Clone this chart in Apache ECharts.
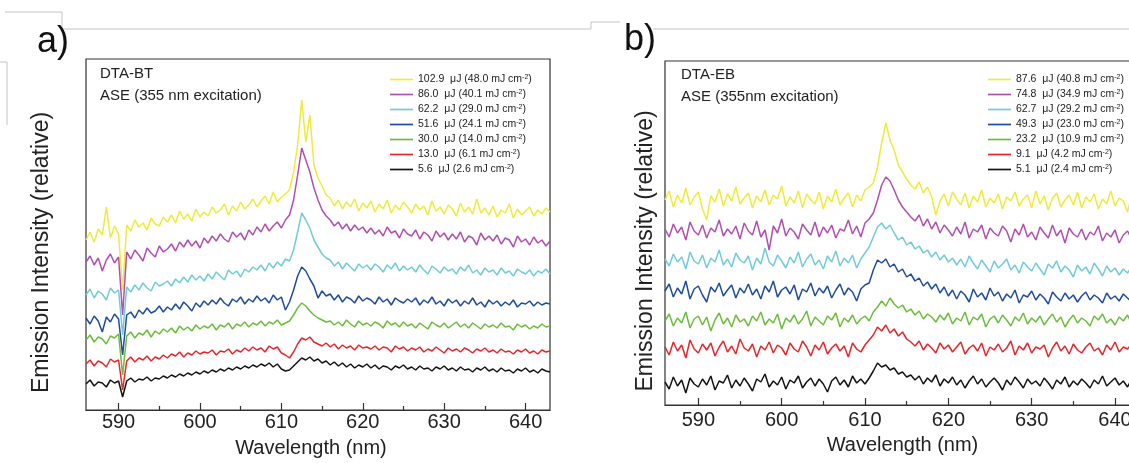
<!DOCTYPE html>
<html><head><meta charset="utf-8">
<script src="https://cdn.jsdelivr.net/npm/echarts@6/dist/echarts.min.js"></script>
<style>html,body{margin:0;padding:0;background:#fff;}#c{width:1129px;height:463px;}</style>
</head><body><div id="c"></div>
<script>
// Wavelength samples (nm)
const wavelengths = [586,586.5,587,587.5,588,588.5,589,589.5,590,590.5,591,591.5,592,592.5,593,593.5,594,594.5,595,595.5,
596,596.5,597,597.5,598,598.5,599,599.5,600,600.5,601,601.5,602,602.5,603,603.5,604,604.5,605,605.5,
606,606.5,607,607.5,608,608.5,609,609.5,610,610.5,611,611.5,612,612.5,613,613.5,614,614.5,615,615.5,
616,616.5,617,617.5,618,618.5,619,619.5,620,620.5,621,621.5,622,622.5,623,623.5,624,624.5,625,625.5,
626,626.5,627,627.5,628,628.5,629,629.5,630,630.5,631,631.5,632,632.5,633,633.5,634,634.5,635,635.5,
636,636.5,637,637.5,638,638.5,639,639.5,640,640.5,641,641.5,642,642.5,643];

const tickLabelsX = [590,600,610,620,630,640];
const minorTicksX = [595,605,615,625,635];

// Panel a) DTA-BT (relative intensity, stacked offsets as plotted)
const labelsA = ['102.9  μJ (48.0 mJ cm⁻²)','86.0  μJ (40.1 mJ cm⁻²)','62.2  μJ (29.0 mJ cm⁻²)','51.6  μJ (24.1 mJ cm⁻²)','30.0  μJ (14.0 mJ cm⁻²)','13.0  μJ (6.1 mJ cm⁻²)','5.6  μJ (2.6 mJ cm⁻²)'];
const a_102_9 = [170,178,168,181,175,203,172,184,176,120, 185,179,190,183,187,180,192,186,184,193,
188,195,187,199,191,196,189,201,193,198, 194,203,197,200,206,195,204,199,208,201,
205,211,203,209,214,206,218,208,213,216, 220,238,265,310,268,295,245,232,224,215,
212,204,210,201,208,203,211,199,207,202, 209,198,206,201,210,197,205,200,208,203,
197,206,200,204,195,209,199,203,196,205, 201,194,207,198,203,196,211,197,202,195,
204,193,200,197,206,192,201,195,199,203,194,200,196,202,198];
const a_86_0 = [148,154,145,152,139,150,156,147,153,95, 158,151,160,155,149,162,157,153,164,158,
161,166,159,168,163,170,164,169,162,172, 167,174,169,176,171,168,178,173,177,170,
180,175,183,178,186,179,184,188,182,190, 195,210,235,262,250,238,222,210,200,194,
190,184,188,181,186,179,185,180,183,177, 182,176,180,174,183,177,179,172,181,176,
174,180,171,178,175,169,179,173,177,170, 176,171,178,168,174,172,165,177,170,174,
169,175,166,172,170,163,174,168,171,165,173,167,170,164,169];
const a_62_2 = [115,121,112,119,116,110,122,117,120,75, 123,118,125,120,127,122,119,128,124,126,
129,124,131,127,133,128,135,130,134,129, 136,131,138,134,130,140,136,139,133,141,
138,143,140,145,139,147,142,148,144,151, 149,160,178,197,190,182,170,163,156,152,
150,144,148,141,147,143,139,146,142,145, 140,146,143,138,145,141,147,139,144,140,
143,138,145,140,136,144,141,137,143,139, 141,136,143,139,145,137,140,135,142,138,
140,135,142,137,139,134,141,138,136,140,134,139,137,141,136];
const a_51_6 = [92,86,94,89,78,93,88,96,91,55, 95,98,92,100,96,102,97,99,104,98,
103,100,106,101,108,104,99,107,103,109, 105,110,106,112,107,104,111,108,113,106,
111,108,114,109,112,107,115,110,113,100, 108,120,134,143,139,131,124,112,119,114,
116,110,115,108,113,111,107,114,109,112, 110,106,113,108,111,105,112,109,107,111,
108,112,105,110,107,113,106,109,104,111, 107,110,104,109,106,112,105,108,103,110,
106,109,104,108,105,110,103,107,106,109,104,108,105,107,106];
const a_30_0 = [70,75,68,73,71,66,74,72,76,35, 74,78,72,77,75,80,73,79,76,81,
78,82,77,84,80,83,79,85,81,84, 82,86,80,85,83,87,81,86,84,88,
83,87,85,89,84,88,86,90,85,87, 89,95,102,107,104,99,95,92,90,88,
89,85,88,84,90,86,83,89,85,87, 84,88,86,82,89,85,87,83,88,84,
86,82,87,84,81,88,85,83,87,82, 85,88,83,86,82,87,84,81,86,83,
85,82,87,83,84,80,86,83,85,81,84,82,86,83,84];
const a_13_0 = [46,50,44,49,47,43,51,48,50,20, 49,53,48,52,50,54,49,53,51,55,
52,56,54,58,53,57,55,59,56,58, 57,60,55,59,58,61,56,60,58,62,
59,63,60,62,58,64,61,63,57,55, 52,58,66,72,70,73,68,66,64,67,
63,66,61,65,62,64,60,65,62,63, 61,64,60,63,62,58,64,61,63,59,
62,60,63,58,61,59,63,60,57,62, 59,61,58,62,60,57,61,59,62,58,
60,57,61,58,59,56,60,58,61,57,59,56,60,58,59];
const a_5_6 = [26,30,24,28,27,23,30,27,29,13, 29,32,28,31,30,33,29,32,31,34,
32,35,33,36,34,37,35,38,36,39, 37,40,38,41,39,42,40,43,41,44,
42,45,43,46,44,47,43,46,41,39, 40,44,48,52,50,53,49,51,47,49,
45,48,44,47,43,46,42,45,43,46, 42,45,41,44,43,40,44,42,45,41,
43,40,44,41,42,39,43,41,44,40, 42,39,43,40,41,38,42,40,43,39,
41,38,42,39,40,37,41,39,42,38,40,37,41,39,38];

// Panel b) DTA-EB
const labelsB = ['87.6  μJ (40.8 mJ cm⁻²)','74.8  μJ (34.9 mJ cm⁻²)','62.7  μJ (29.2 mJ cm⁻²)','49.3  μJ (23.0 mJ cm⁻²)','23.2  μJ (10.9 mJ cm⁻²)','9.1  μJ (4.2 mJ cm⁻²)','5.1  μJ (2.4 mJ cm⁻²)'];
const b_87_6 = [205,214,198,210,202,217,200,208,213,196, 185,209,203,216,199,211,204,218,201,207,
212,197,209,203,215,200,210,206,219,199, 208,202,214,197,211,205,201,213,196,209,
203,216,200,207,212,198,210,204,215,218, 222,238,262,282,265,255,240,233,226,220,
216,223,212,218,208,190,204,211,199,213, 206,200,212,197,209,203,215,198,207,202,
211,196,208,204,213,199,206,210,197,214, 201,209,195,207,212,198,205,210,200,213,
197,208,203,211,196,206,201,214,199,207,204,193,210,202,208];
const b_74_8 = [176,168,181,172,178,165,183,174,170,180, 167,177,173,185,169,176,171,179,166,182,
174,170,184,168,175,155,179,172,186,169, 177,173,166,181,175,170,183,168,178,172,
180,167,176,174,185,171,179,168,182,186, 192,205,220,228,224,215,205,198,193,188,
184,190,179,186,176,183,172,180,175,169, 178,171,183,167,176,173,180,166,177,172,
169,179,174,163,176,170,181,168,173,165, 178,172,167,180,169,175,162,177,171,168,
176,165,173,170,179,164,172,168,175,162,170,174,166,171,168];
const b_62_7 = [146,139,151,143,148,136,153,144,141,150, 137,147,143,155,140,146,138,152,145,142,
149,135,147,141,157,143,139,150,144,137, 148,142,153,138,146,151,140,145,136,149,
143,154,139,147,142,150,137,146,152,158, 168,178,182,176,180,172,165,168,160,163,
156,159,152,155,148,153,145,150,143,147, 140,146,138,149,142,136,145,139,133,144,
137,141,146,135,140,132,143,138,134,142, 136,130,141,137,144,133,139,135,128,140,
134,138,131,142,136,129,139,133,137,130,136,132,138,134,135];
const b_49_3 = [114,121,108,117,111,124,106,116,119,110, 103,118,113,122,109,115,120,107,117,112,
121,110,116,106,119,113,124,108,115,118, 111,120,105,116,113,122,109,117,112,119,
107,115,121,110,117,113,104,116,120,122, 135,145,142,146,138,141,133,136,128,131,
124,127,119,123,116,121,112,118,109,115, 106,114,110,103,116,108,112,105,117,109,
113,104,111,107,115,102,110,108,114,105, 111,107,101,113,108,104,112,106,110,103,
109,113,105,110,107,102,112,106,109,104,111,107,103,110,108];
const b_23_2 = [84,91,79,87,82,93,77,86,89,80, 88,74,85,92,81,87,78,90,83,86,
79,89,84,93,80,86,82,91,76,87, 83,90,81,86,94,79,88,84,80,89,
85,92,78,87,83,90,81,86,89,84, 93,98,104,99,107,101,97,100,93,96,
90,94,86,91,88,83,90,85,92,81, 87,84,93,80,88,85,91,78,86,89,
82,90,85,79,88,84,92,81,87,83, 89,80,86,91,83,88,78,85,90,82,
87,84,79,89,85,91,82,86,80,88,84,90,81,87,85];
const b_9_1 = [58,50,63,54,60,47,65,56,52,61, 55,62,49,58,64,53,59,51,66,57,
54,61,48,59,55,63,52,60,57,50, 62,56,53,64,58,49,60,55,63,51,
57,61,54,59,48,62,56,53,60,65, 70,78,74,80,72,76,69,73,66,63,
59,64,55,61,57,52,62,56,60,53, 58,63,51,57,60,54,62,49,58,55,
61,53,57,64,50,59,55,62,52,58, 56,60,48,57,63,54,59,51,61,55,
52,58,62,54,57,50,60,55,63,53,58,56,61,52,57];
const b_5_1 = [23,16,28,19,25,12,27,21,18,26, 20,29,15,24,22,30,17,25,19,27,
21,14,26,23,31,18,24,20,28,16, 25,22,29,17,23,27,19,26,21,13,
24,28,20,25,18,29,22,26,21,27, 34,42,38,40,35,37,31,33,28,30,
25,29,21,27,23,30,19,26,22,28, 20,25,17,24,29,21,26,18,23,27,
22,15,25,20,28,23,17,26,21,24, 19,27,22,16,25,21,28,18,24,20,
26,22,17,25,21,29,19,23,27,20,24,18,26,22,23];

const colors = ['#efeb3e','#b04fb0','#72cbd8','#1f4c9c','#6cbd3c','#e5262b','#141414'];
const seriesA = [a_102_9,a_86_0,a_62_2,a_51_6,a_30_0,a_13_0,a_5_6];
const seriesB = [b_87_6,b_74_8,b_62_7,b_49_3,b_23_2,b_9_1,b_5_1];

const FONT = 'Liberation Sans, Arial, Helvetica, sans-serif';
const chart = echarts.init(document.getElementById('c'), null, {renderer:'canvas'});

function pairs(vals){ return wavelengths.map((w,i)=>[w, vals[i]]); }
function mkSeries(vals, names, gi, xi){
  return vals.map((v,k)=>({
    type:'line', name:names[k], xAxisIndex:xi, yAxisIndex:gi,
    data:pairs(v), symbol:'none', showSymbol:false, animation:false,
    lineStyle:{width:1.5, color:colors[k]}, itemStyle:{color:colors[k]}, z:2+k
  }));
}
function xMajor(gi, margin, nameGap, pad){
  return {type:'value', gridIndex:gi, position:'bottom', min:586, max:643,
    name:'Wavelength (nm)', nameLocation:'middle', nameGap:nameGap,
    nameTextStyle:{fontSize:20, color:'#222', fontFamily:FONT, padding:pad},
    axisLine:{show:true, lineStyle:{color:'#333', width:1.2}},
    axisTick:{show:true, inside:true, length:7, customValues:tickLabelsX, lineStyle:{color:'#333', width:1.2}},
    axisLabel:{show:true, customValues:tickLabelsX, fontSize:20, color:'#222', fontFamily:FONT, margin:margin},
    splitLine:{show:false}};
}
function xMinor(gi){
  return {type:'value', gridIndex:gi, position:'bottom', min:586, max:643,
    axisLine:{show:false}, splitLine:{show:false},
    axisTick:{show:true, inside:true, length:4, customValues:minorTicksX, lineStyle:{color:'#333', width:1.2}},
    axisLabel:{show:false}};
}
function yAx(gi, max, nameGap){
  return {type:'value', gridIndex:gi, min:0, max:max,
    name:'Emission Intensity (relative)', nameLocation:'middle', nameGap:nameGap, nameRotate:90,
    nameTextStyle:{fontSize:23, color:'#222', fontFamily:FONT, padding:[0,36,0,0]},
    axisLine:{show:false}, axisTick:{show:false}, axisLabel:{show:false}, splitLine:{show:false}};
}
const legendRich = {
  b:{fontSize:10.5, color:'#222', fontFamily:FONT, lineHeight:11},
  s:{fontSize:7, color:'#222', fontFamily:FONT, lineHeight:7, verticalAlign:'top'}
};
function legendFmt(n){ const p = n.split('cm⁻²'); return '{b|'+p[0]+'cm}{s|-2}{b|'+p[1]+'}'; }
const legendIcon = 'path://M0,0L30,0L30,2.2L0,2.2Z';

const option = {
  backgroundColor:'#fff',
  animation:false,
  grid:[
    {left:86, top:59, width:464, height:351, show:true, borderColor:'#333', borderWidth:1.2, outerBoundsMode:'none'},
    {left:665, top:61, width:475, height:344, show:true, borderColor:'#333', borderWidth:1.2, outerBoundsMode:'none'}
  ],
  xAxis:[xMajor(0,2,28,[0,14,0,0]), xMinor(0), xMajor(1,5,30,[0,0,0,0]), xMinor(1)],
  yAxis:[yAx(0,351,33), yAx(1,344,8)],
  title:[
    {text:'a)', left:37, top:24, padding:0, textStyle:{fontSize:36, fontWeight:'normal', color:'#111', fontFamily:FONT}},
    {text:'b)', left:624, top:22, padding:0, textStyle:{fontSize:36, fontWeight:'normal', color:'#111', fontFamily:FONT}},
    {text:'DTA-BT', subtext:'ASE (355 nm excitation)', left:100, top:66, padding:0, itemGap:7,
      textStyle:{fontSize:15, fontWeight:'normal', color:'#222', fontFamily:FONT},
      subtextStyle:{fontSize:15, color:'#222', fontFamily:FONT}},
    {text:'DTA-EB', subtext:'ASE (355nm excitation)', left:681, top:67, padding:0, itemGap:7,
      textStyle:{fontSize:15, fontWeight:'normal', color:'#222', fontFamily:FONT},
      subtextStyle:{fontSize:15, color:'#222', fontFamily:FONT}}
  ],
  legend:[
    {data:labelsA, orient:'vertical', left:390, top:74, padding:0, itemWidth:23, itemHeight:11, itemGap:4,
      icon:legendIcon, symbolKeepAspect:true,
      formatter:legendFmt, textStyle:{rich:legendRich}, selectedMode:false},
    {data:labelsB, orient:'vertical', left:988, top:74, padding:0, itemWidth:23, itemHeight:11, itemGap:4,
      icon:legendIcon, symbolKeepAspect:true,
      formatter:legendFmt, textStyle:{rich:legendRich}, selectedMode:false}
  ],
  graphic:[
    {type:'polyline', shape:{points:[[5,12],[62,12],[62,29],[591,29],[591,22],[620,22]]}, style:{stroke:'#c4c4c4', lineWidth:1, fill:null}, silent:true},
    {type:'polyline', shape:{points:[[653,29],[1129,29]]}, style:{stroke:'#c4c4c4', lineWidth:1, fill:null}, silent:true},
    {type:'polyline', shape:{points:[[0,62],[7,62],[7,125]]}, style:{stroke:'#c4c4c4', lineWidth:1, fill:null}, silent:true}
  ],
  series:[].concat(mkSeries(seriesA, labelsA, 0, 0), mkSeries(seriesB, labelsB, 1, 2))
};
chart.setOption(option);
</script></body></html>
